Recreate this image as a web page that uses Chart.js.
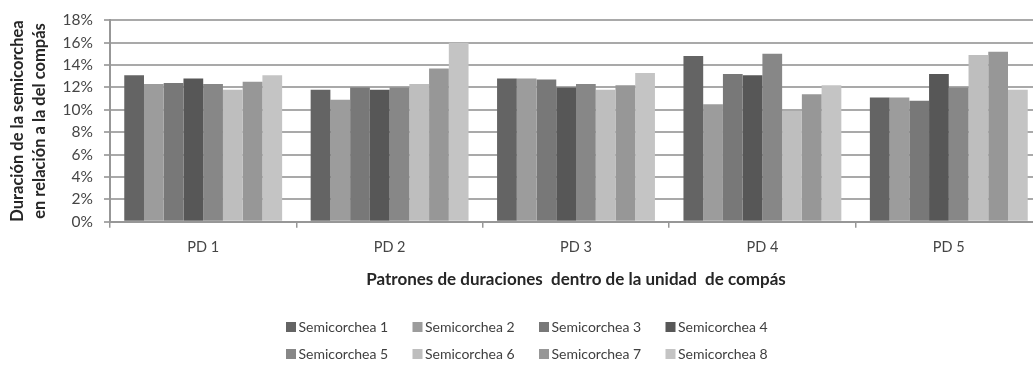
<!DOCTYPE html>
<html>
<head>
<meta charset="utf-8">
<script src="https://cdn.jsdelivr.net/npm/chart.js@4.4.1/dist/chart.umd.min.js"></script>
<style>
  html, body { margin: 0; padding: 0; background: #ffffff; overflow: hidden; }
  #wrap { position: absolute; left: 0; top: 0; width: 1046px; height: 366px; }
</style>
</head>
<body>
<div id="wrap"><canvas id="chart"></canvas></div>
<script>
// Categories: duration patterns within the bar unit
const categories = ['PD 1', 'PD 2', 'PD 3', 'PD 4', 'PD 5'];

// Share of each sixteenth note (percent of the bar), one array per note
const semicorchea1 = [13.1, 11.8, 12.8, 14.8, 11.1];
const semicorchea2 = [12.3, 10.9, 12.8, 10.5, 11.1];
const semicorchea3 = [12.4, 12.0, 12.7, 13.2, 10.8];
const semicorchea4 = [12.8, 11.8, 12.0, 13.1, 13.2];
const semicorchea5 = [12.3, 12.0, 12.3, 15.0, 12.0];
const semicorchea6 = [11.8, 12.3, 11.8, 9.9, 14.9];
const semicorchea7 = [12.5, 13.7, 12.2, 11.4, 15.2];
const semicorchea8 = [13.1, 16.0, 13.3, 12.2, 11.8];

const seriesNames = ['Semicorchea 1', 'Semicorchea 2', 'Semicorchea 3', 'Semicorchea 4',
                     'Semicorchea 5', 'Semicorchea 6', 'Semicorchea 7', 'Semicorchea 8'];
const seriesValues = [semicorchea1, semicorchea2, semicorchea3, semicorchea4,
                      semicorchea5, semicorchea6, semicorchea7, semicorchea8];
const seriesColors = ['#646464', '#9c9c9c', '#787878', '#575757',
                      '#878787', '#bebebe', '#979797', '#c4c4c4'];

const yTitle = ['Duración de la semicorchea', 'en relación a la del compás'];
const xTitle = 'Patrones de duraciones  dentro de la unidad  de compás';

const FONT = 'Lato, "Open Sans", sans-serif';
const gridColor = '#a9a9a9';
const axisColor = '#979797';

// Legend laid out as a 4 x 2 grid under the axis title
const gridLegend = {
  id: 'gridLegend',
  afterDraw(chart, args, opts) {
    const ctx = chart.ctx;
    ctx.save();
    ctx.font = opts.fontSize + 'px ' + FONT;
    ctx.textBaseline = 'middle';
    ctx.textAlign = 'left';
    chart.data.datasets.forEach((ds, i) => {
      const col = i % opts.columns;
      const row = Math.floor(i / opts.columns);
      const x = opts.left + col * opts.colPitch;
      const y = opts.top + row * opts.rowPitch;
      ctx.fillStyle = ds.backgroundColor;
      ctx.fillRect(x, y - opts.box / 2, opts.box, opts.box);
      ctx.fillStyle = opts.color;
      ctx.fillText(ds.label, x + opts.box + opts.gap, y + 0.5);
    });
    ctx.restore();
  }
};

new Chart(document.getElementById('chart'), {
  type: 'bar',
  data: {
    labels: categories,
    datasets: seriesNames.map((name, i) => ({
      label: name,
      data: seriesValues[i],
      backgroundColor: seriesColors[i],
      borderWidth: 0,
      categoryPercentage: 0.847,
      barPercentage: 1.0
    }))
  },
  options: {
    responsive: true,
    maintainAspectRatio: false,
    animation: false,
    layout: { padding: { top: 19, left: 0, right: 4, bottom: 60 } },
    scales: {
      x: {
        grid: { display: true, drawOnChartArea: false, drawTicks: true, tickLength: 6, color: axisColor, lineWidth: 1.5, offset: true },
        border: { display: true, color: axisColor, width: 2 },
        ticks: { color: '#454545', font: { family: FONT, size: 14.5 }, padding: 11, },
        title: { display: true, text: xTitle, color: '#262626', font: { family: FONT, size: 17, weight: 'bold' }, padding: { top: 0, bottom: 15.8 } },
        afterFit: (s) => { s.height = 84.3; }
      },
      y: {
        min: 0, max: 18,
        ticks: { stepSize: 2, color: '#454545', font: { family: FONT, size: 15.5 }, padding: 11, callback: (v) => v + '%' },
        grid: { color: gridColor, lineWidth: 2, tickLength: 6, drawTicks: true },
        border: { display: true, color: axisColor, width: 2 },
        title: { display: true, text: yTitle, color: '#262626', font: { family: FONT, size: 16.5, weight: 'bold', lineHeight: '22px' }, padding: { top: 7, bottom: 0 } },
        afterFit: (s) => { s.width = 110; }
      }
    },
    plugins: {
      legend: { display: false },
      tooltip: { enabled: false },
      gridLegend: { columns: 4, left: 286, top: 327, colPitch: 126.5, rowPitch: 27, box: 10, gap: 2.5, fontSize: 14, color: '#404040' }
    }
  },
  plugins: [gridLegend]
});
</script>
</body>
</html>
